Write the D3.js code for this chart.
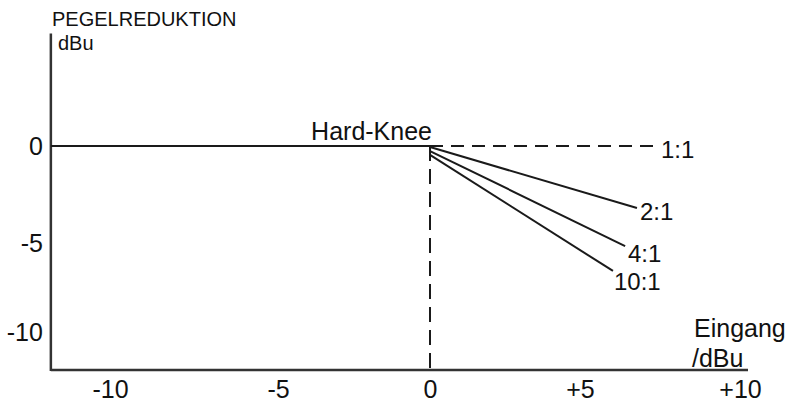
<!DOCTYPE html>
<html><head><meta charset="utf-8">
<script src="https://cdn.jsdelivr.net/npm/d3@7"></script>
<style>body{margin:0;background:#fff}text{font-family:"Liberation Sans",Arial,sans-serif;fill:#111}</style>
</head><body><svg id="c" width="792" height="404"></svg>
<script>
// data
const xTicks = [-10, -5, 0, 5, 10];
const xTickLabels = ["-10", "-5", "0", "+5", "+10"];
const yTicks = [-10, -5, 0];
const yTickLabels = ["-10", "-5", "0"];
const belowKnee = [[-11.76, 0], [0, 0]];
const kneeVertical = [[0, 0], [0, -12.13]];
const ratioNames = ["1:1", "2:1", "4:1", "10:1"];
const ratioStart = [[0, 0], [0, -0.05], [0, -0.26], [0, -0.46]];
const ratioEnd = [[7.41, 0], [6.78, -3.2], [6.41, -5.17], [6.03, -6.57]];
const xDomain = [-11.76, 10.25];
const yDomain = [-12.13, 5.8];

const svg = d3.select("#c");
// schematic (slightly non-uniform) scales
const x = d3.scaleLinear().domain(xTicks).range([110, 278, 430, 580, 740]);
const y = d3.scaleLinear().domain(yTicks).range([332, 243, 146]);
const ink = "#1a1a1a";

// axes lines
svg.append("line").attr("x1", x(xDomain[0])).attr("x2", x(xDomain[0]))
  .attr("y1", y(yDomain[1])).attr("y2", y(yDomain[0]) + 1.2)
  .attr("stroke", "#333").attr("stroke-width", 2.5);
svg.append("line").attr("x1", x(xDomain[0])).attr("x2", x(xDomain[1]))
  .attr("y1", y(yDomain[0])).attr("y2", y(yDomain[0]))
  .attr("stroke", "#333").attr("stroke-width", 2.5);

// tick labels via d3 axes
const xAxis = d3.axisBottom(x).tickValues(xTicks)
  .tickFormat((d, i) => xTickLabels[i]).tickSize(0).tickPadding(10);
const gx = svg.append("g").attr("transform", `translate(0,${y(yDomain[0])})`).call(xAxis);
gx.select(".domain").remove();
gx.selectAll("text").attr("font-size", 25).attr("font-family", "Liberation Sans, Arial, sans-serif").attr("fill", ink);

const yAxis = d3.axisLeft(y).tickValues(yTicks)
  .tickFormat((d, i) => yTickLabels[i]).tickSize(0).tickPadding(8);
const gy = svg.append("g").attr("transform", `translate(${x(xDomain[0])},0)`).call(yAxis);
gy.select(".domain").remove();
gy.selectAll("text").attr("font-size", 25).attr("font-family", "Liberation Sans, Arial, sans-serif").attr("fill", ink);

const line = d3.line().x(d => x(d[0])).y(d => y(d[1]));

svg.append("path").attr("d", line(belowKnee)).attr("fill", "none")
  .attr("stroke", ink).attr("stroke-width", 2.2);
svg.append("path").attr("d", line(kneeVertical)).attr("fill", "none")
  .attr("stroke", ink).attr("stroke-width", 2).attr("stroke-dasharray", "15,8");

ratioNames.forEach((n, i) => {
  svg.append("path").attr("d", line([ratioStart[i], ratioEnd[i]])).attr("fill", "none")
    .attr("stroke", ink).attr("stroke-width", 2)
    .attr("stroke-dasharray", i === 0 ? "13,8" : null);
});

// ratio labels
const labelPos = [[661, 158], [640, 220], [628, 262], [614, 290]];
ratioNames.forEach((n, i) => {
  svg.append("text").attr("x", labelPos[i][0]).attr("y", labelPos[i][1])
    .attr("font-size", 24).text(n);
});

// texts
svg.append("text").attr("x", 432).attr("y", 140).attr("text-anchor", "end")
  .attr("font-size", 25).text("Hard-Knee");
svg.append("text").attr("x", 52).attr("y", 26).attr("font-size", 20).text("PEGELREDUKTION");
svg.append("text").attr("x", 58).attr("y", 50).attr("font-size", 20).text("dBu");
svg.append("text").attr("x", 694).attr("y", 337).attr("font-size", 25).text("Eingang");
svg.append("text").attr("x", 692).attr("y", 367).attr("font-size", 25).text("/dBu");
</script></body></html>
